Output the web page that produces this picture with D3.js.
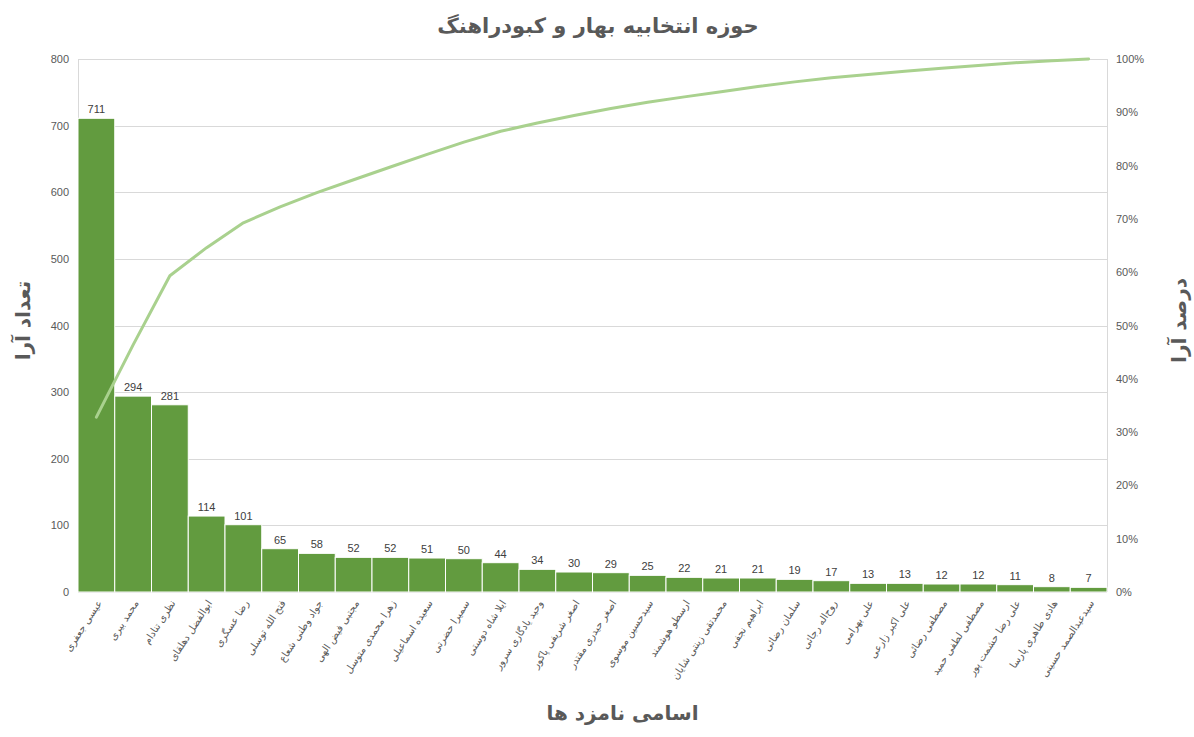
<!DOCTYPE html>
<html>
<head>
<meta charset="utf-8">
<script src="https://cdn.jsdelivr.net/npm/d3@7"></script>
<style>
  body { margin: 0; background: #ffffff; }
  svg { display: block; }
</style>
</head>
<body>
<div id="chart"></div>
<script>
// candidates, ordered by number of votes
var candidates = [
    "عیسی جعفری", "محمد بیری", "نظری تنادام", "ابوالفضل دهلقای", "رضا عسگری",
    "فتح الله توسلی", "جواد وطنی شعاع", "مجتبی فیض الهی", "زهرا محمدی متوسل", "سعیده اسماعیلی",
    "سمیرا حضرتی", "ایلا شاه دوستی", "وحید یادگاری سرور", "اصغر شریفی پاکور", "اصغر حیدری مقتدر",
    "سیدحسین موسوی", "ارسطو هوشمند", "محمدتقی زینتی شایان", "ابراهیم نجفی", "سلمان رضائی",
    "روح‌اله رجائی", "علی بهرامی", "علی اکبر زارعی", "مصطفی رضائی", "مصطفی لطفی حمید",
    "علی رضا حشمت پور", "هادی طاهری پارسا", "سیدعبدالصمد حسینی"
];
var votes = [711, 294, 281, 114, 101, 65, 58, 52, 52, 51, 50, 44, 34, 30, 29,
    25, 22, 21, 21, 19, 17, 13, 13, 12, 12, 11, 8, 7];
var countTicks = [0, 100, 200, 300, 400, 500, 600, 700, 800];
var percentTicks = [0, 0.1, 0.2, 0.3, 0.4, 0.5, 0.6, 0.7, 0.8, 0.9, 1];

var chartTitle = "حوزه انتخابیه بهار و کبودراهنگ";
var xTitle = "اسامی نامزد ها";
var yTitle = "تعداد آرا";
var y2Title = "درصد آرا";

// pareto line: running share of all votes
var total = d3.sum(votes);
var cumulative = Array.from(d3.cumsum(votes), function (v) { return v / total; });

var width = 1194, height = 737;
var margin = { left: 78, top: 59, right: 87, bottom: 145 };
var innerW = width - margin.left - margin.right;
var innerH = height - margin.top - margin.bottom;

var svg = d3.select("#chart").append("svg")
    .attr("width", width)
    .attr("height", height);

var g = svg.append("g")
    .attr("transform", "translate(" + margin.left + "," + margin.top + ")");

var x = d3.scaleBand().domain(candidates).range([0, innerW]).padding(0);
var y = d3.scaleLinear().domain([0, 800]).range([innerH, 0]);
var y2 = d3.scaleLinear().domain([0, 1]).range([innerH, 0]);

// gridlines
g.append("g")
    .selectAll("line")
    .data(countTicks)
    .enter()
    .append("line")
    .attr("x1", 0)
    .attr("x2", innerW)
    .attr("y1", function (d) { return Math.round(y(d)) + 0.5; })
    .attr("y2", function (d) { return Math.round(y(d)) + 0.5; })
    .attr("stroke", "#d9d9d9")
    .attr("stroke-width", 1);

// side borders
g.append("line").attr("x1", 0.5).attr("x2", 0.5).attr("y1", 0).attr("y2", innerH)
    .attr("stroke", "#d9d9d9");
g.append("line").attr("x1", innerW + 0.5).attr("x2", innerW + 0.5).attr("y1", 0).attr("y2", innerH)
    .attr("stroke", "#d9d9d9");

// bars
g.append("g")
    .selectAll("rect")
    .data(votes)
    .enter()
    .append("rect")
    .attr("x", function (d, i) { return x(candidates[i]); })
    .attr("y", function (d) { return y(d); })
    .attr("width", x.bandwidth())
    .attr("height", function (d) { return innerH - y(d); })
    .attr("fill", "#629b3f")
    .attr("stroke", "#ffffff")
    .attr("stroke-width", 1);

// value labels
g.append("g")
    .selectAll("text")
    .data(votes)
    .enter()
    .append("text")
    .attr("x", function (d, i) { return x(candidates[i]) + x.bandwidth() / 2; })
    .attr("y", function (d) { return y(d) - 5; })
    .attr("text-anchor", "middle")
    .attr("font-family", "Liberation Sans, Arial, sans-serif")
    .attr("font-size", 11)
    .attr("fill", "#404040")
    .text(function (d) { return d; });

// pareto line
var line = d3.line()
    .x(function (d, i) { return x(candidates[i]) + x.bandwidth() / 2; })
    .y(function (d) { return y2(d); });

g.append("path")
    .datum(cumulative)
    .attr("d", line)
    .attr("fill", "none")
    .attr("stroke", "#a9d18e")
    .attr("stroke-width", 3)
    .attr("stroke-linecap", "round")
    .attr("stroke-linejoin", "round");

// left axis
var yAxis = d3.axisLeft(y).tickValues(countTicks).tickSize(0).tickPadding(9);
g.append("g").call(yAxis)
    .call(function (s) { s.select(".domain").remove(); })
    .selectAll("text")
    .attr("font-family", "Liberation Sans, Arial, sans-serif")
    .attr("font-size", 11)
    .attr("fill", "#595959");

// right axis
var y2Axis = d3.axisRight(y2).tickValues(percentTicks).tickSize(0).tickPadding(9)
    .tickFormat(d3.format(".0%"));
g.append("g")
    .attr("transform", "translate(" + innerW + ",0)")
    .call(y2Axis)
    .call(function (s) { s.select(".domain").remove(); })
    .selectAll("text")
    .attr("font-family", "Liberation Sans, Arial, sans-serif")
    .attr("font-size", 11)
    .attr("fill", "#595959");

// category labels, slanted
g.append("g")
    .selectAll("text")
    .data(candidates)
    .enter()
    .append("text")
    .attr("transform", function (d) {
        var cx = x(d) + x.bandwidth() / 2 + 6;
        return "translate(" + cx + "," + (innerH + 11) + ") rotate(-57)";
    })
    .attr("text-anchor", "end")
    .attr("font-family", "DejaVu Sans, sans-serif")
    .attr("font-size", 10)
    .attr("fill", "#595959")
    .text(function (d) { return d; });

// titles
svg.append("text")
    .attr("x", width / 2 + 1)
    .attr("y", 33)
    .attr("text-anchor", "middle")
    .attr("font-family", "DejaVu Sans, sans-serif")
    .attr("font-weight", "bold")
    .attr("font-size", 21)
    .attr("fill", "#595959")
    .text(chartTitle);

svg.append("text")
    .attr("x", margin.left + innerW / 2 + 30)
    .attr("y", 720)
    .attr("text-anchor", "middle")
    .attr("font-family", "DejaVu Sans, sans-serif")
    .attr("font-weight", "bold")
    .attr("font-size", 20)
    .attr("fill", "#595959")
    .text(xTitle);

svg.append("text")
    .attr("transform", "translate(30," + (margin.top + innerH / 2 - 5) + ") rotate(-90)")
    .attr("text-anchor", "middle")
    .attr("font-family", "DejaVu Sans, sans-serif")
    .attr("font-weight", "bold")
    .attr("font-size", 20)
    .attr("fill", "#595959")
    .text(yTitle);

svg.append("text")
    .attr("transform", "translate(1186," + (margin.top + innerH / 2 - 5) + ") rotate(-90)")
    .attr("text-anchor", "middle")
    .attr("font-family", "DejaVu Sans, sans-serif")
    .attr("font-weight", "bold")
    .attr("font-size", 20)
    .attr("fill", "#595959")
    .text(y2Title);
</script>
</body>
</html>
